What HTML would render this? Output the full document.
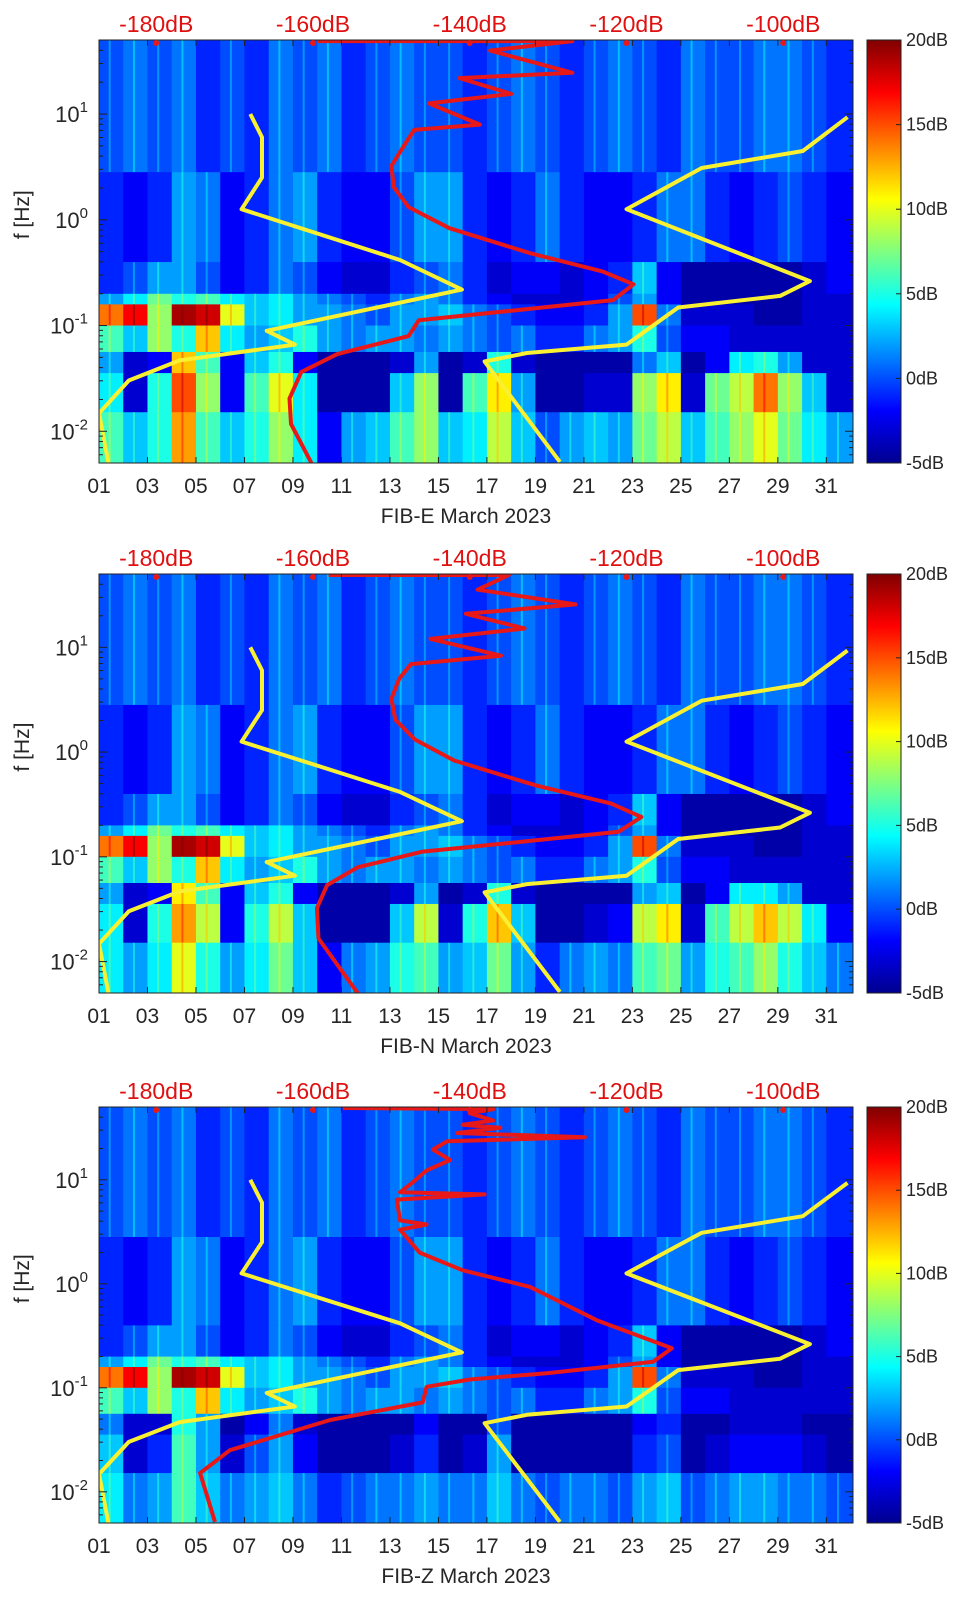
<!DOCTYPE html>
<html><head><meta charset="utf-8"><style>
html,body{margin:0;padding:0;background:#fff;}
svg{display:block;font-family:"Liberation Sans","DejaVu Sans",sans-serif;}
</style></head><body>
<svg id="fig" width="962" height="1599" viewBox="0 0 962 1599" xmlns="http://www.w3.org/2000/svg">
<defs>
<linearGradient id="jet" x1="0" y1="1" x2="0" y2="0">
<stop offset="0" stop-color="#00008f"/><stop offset="0.125" stop-color="#0000ff"/><stop offset="0.375" stop-color="#00ffff"/><stop offset="0.625" stop-color="#ffff00"/><stop offset="0.875" stop-color="#ff0000"/><stop offset="1" stop-color="#800000"/>
</linearGradient>
</defs>
</svg>
<script>
// ---- data ----
const days = Array.from({length:31},(_,i)=>i+1);
const bandEdges = [[1.7,0.45],[0.45,-0.4],[-0.4,-0.7],[-0.7,-0.8],[-0.8,-1.0],[-1.0,-1.25],[-1.25,-1.45],[-1.45,-1.82],[-1.82,-2.3]];
const b0 = [0,1,0,1,-1,0,-1,1,0,1,-1,0,1,0,0,-1,0,1,0,-1,0,1,0,-1,1,0,0,1,1,0,-1];
const b1 = [-1,-2,-1,2,1,-2,-1,1,2,-1,-2,-2,0,2,2,-1,-2,-1,1,-1,-2,-2,-1,1,1,-1,-2,-1,0,-1,-2];
const b2 = [-1,0,2,2,0,-2,-1,1,0,-2,-3,-3,-1,0,1,-1,-3,-2,-2,-3,-2,-1,3,-2,-4,-4,-4,-4,-4,-3,-2];
const b3 = [2,4,7,5,6,4,3,4,2,1,0,-1,1,2,1,-1,-2,-3,-3,-3,-2,0,2,-2,-4,-4,-4,-4,-4,-3,-3];
const b4 = [14,17,8,19,18,10,3,4,2,2,1,0,2,2,3,1,0,-1,-2,-2,-1,2,15,1,-3,-3,-3,-4,-4,-3,-3];
const b5 = [6,3,8,5,12,4,2,3,5,2,1,2,2,1,2,1,0,1,-1,-1,1,2,5,0,-2,-2,-3,-3,-3,-3,-3];
const e6 = [2,-3,-2,12,6,-2,3,5,-2,-4,-4,-4,-3,2,-4,-3,5,-3,-4,-4,-4,-4,1,3,-4,-2,4,5,2,-3,-3];
const e7 = [4,-3,5,15,8,-2,6,10,4,-4,-4,-4,3,8,-4,6,11,2,-4,-4,-3,-3,8,11,-3,7,9,14,8,3,-3];
const e8 = [6,3,5,13,6,3,5,8,4,-2,2,3,6,8,3,4,9,3,0,2,3,2,7,9,3,6,8,10,7,4,2];
const n6 = [2,-3,-2,11,6,-2,3,5,-2,-4,-4,-4,-3,2,-4,-3,5,-3,-4,-4,-4,-4,2,3,-4,-2,4,4,2,-3,-3];
const n7 = [4,-3,5,13,9,-2,5,9,3,-4,-4,-4,3,9,-3,5,12,3,-4,-4,-3,-2,9,11,-3,6,9,12,9,4,-2];
const n8 = [4,2,4,10,5,2,4,7,3,-2,1,2,5,6,2,3,7,2,-1,1,2,1,6,7,2,5,6,8,5,3,1];
const z6 = [1,-3,-3,5,2,-4,-2,1,-3,-4,-4,-4,-4,-2,-4,-4,0,-4,-4,-4,-4,-4,-2,-1,-4,-4,-3,-3,-3,-4,-4];
const z7 = [3,-3,-1,6,2,-3,0,2,-2,-4,-4,-4,-3,-1,-4,-3,2,-4,-4,-4,-4,-4,-1,0,-4,-3,-2,-2,-2,-3,-4];
const z8 = [4,1,2,6,3,1,2,3,1,-1,0,1,1,2,1,1,3,1,0,1,1,0,2,3,0,1,2,2,1,1,0];
// NLNM / NHNM (dB, log10 f)
const nlnmDb = [-168.0,-166.5,-166.5,-169.1,-148.9,-141.0,-165.9,-162.3,-177.0,-183.5,-187.3,-186.1];
const nlnmLf = [1.0,0.78,0.40,0.10,-0.38,-0.66,-1.05,-1.18,-1.33,-1.52,-1.83,-2.3];
const nhnmDb = [-91.8,-97.5,-110.4,-120.0,-96.6,-100.4,-113.4,-120.0,-132.7,-138.1,-128.5];
const nhnmLf = [0.97,0.65,0.49,0.10,-0.58,-0.72,-0.83,-1.18,-1.26,-1.34,-2.29];
// median PSD per channel
const redEDb = [-159.5,-126.9,-137.4,-126.9,-141.3,-134.7,-145.2,-138.7,-147.1,-148.4,-150.0,-149.7,-147.8,-142.6,-132.1,-123.0,-119.1,-121.7,-134.7,-146.5,-147.8,-156.9,-161.5,-163.0,-162.8,-160.2];
const redELf = [1.69,1.69,1.60,1.39,1.34,1.19,1.10,0.90,0.85,0.70,0.51,0.31,0.12,-0.08,-0.32,-0.49,-0.61,-0.76,-0.86,-0.95,-1.1,-1.27,-1.44,-1.69,-1.93,-2.3];
const redNDb = [-158.0,-135.0,-139.0,-126.5,-140.5,-133.0,-145.0,-136.0,-147.5,-149.0,-150.0,-149.5,-147.0,-142.0,-131.5,-122.0,-118.1,-121.0,-134.0,-146.0,-154.3,-158.2,-159.5,-159.3,-156.9,-154.3];
const redNLf = [1.69,1.69,1.55,1.41,1.32,1.18,1.08,0.92,0.84,0.70,0.51,0.31,0.12,-0.08,-0.32,-0.49,-0.62,-0.76,-0.86,-0.95,-1.1,-1.27,-1.49,-1.78,-2.03,-2.3];
const redZDb = [-156.2,-137.0,-140.0,-137.0,-140.9,-136.1,-141.6,-125.3,-142.9,-144.7,-142.5,-145.5,-147.2,-148.9,-138.1,-149.3,-148.9,-145.5,-148.9,-146.4,-140.9,-132.3,-123.8,-114.2,-116.6,-130.2,-140.0,-145.5,-146.0,-157.8,-170.6,-174.4,-172.5];
const redZLf = [1.69,1.68,1.64,1.57,1.53,1.50,1.45,1.41,1.37,1.29,1.19,1.09,0.98,0.88,0.86,0.81,0.61,0.57,0.52,0.30,0.13,-0.03,-0.35,-0.62,-0.75,-0.86,-0.92,-0.99,-1.14,-1.31,-1.6,-1.82,-2.29];
const xTickDays = [1,3,5,7,9,11,13,15,17,19,21,23,25,27,29,31];
const xTickLabels = ["01","03","05","07","09","11","13","15","17","19","21","23","25","27","29","31"];
const dbTicks = [-180,-160,-140,-120,-100];
const cbTicks = [20,15,10,5,0,-5];
const yDecades = [1,0,-1,-2];

const panels = [
 {name:'fib-e', title:'FIB-E March 2023', top:40, bottom:463, low:[e6,e7,e8], rd:redEDb, rl:redELf},
 {name:'fib-n', title:'FIB-N March 2023', top:574, bottom:993, low:[n6,n7,n8], rd:redNDb, rl:redNLf},
 {name:'fib-z', title:'FIB-Z March 2023', top:1107, bottom:1523, low:[z6,z7,z8], rd:redZDb, rl:redZLf}
];
const X0=99, X1=853, D0=1, D1=32.1, DB0=-187.3, DB1=-91.1, LF0=1.7, LF1=-2.3;
const NS='http://www.w3.org/2000/svg';
const svg=document.getElementById('fig');
function mk(tag,attrs,parent){const e=document.createElementNS(NS,tag);for(const k in attrs)e.setAttribute(k,attrs[k]);(parent||svg).appendChild(e);return e;}
function jet(v){let t=(v+5)/25;t=Math.max(0,Math.min(1,t));const c=x=>Math.round(255*Math.max(0,Math.min(1,1.5-Math.abs(4*t-x))));return `rgb(${c(3)},${c(2)},${c(1)})`;}
const xDay=d=>X0+(d-D0)/(D1-D0)*(X1-X0);
const xDb=db=>X0+(db-DB0)/(DB1-DB0)*(X1-X0);

panels.forEach(p=>{
  const yLf=lf=>p.top+(LF0-lf)/(LF0-LF1)*(p.bottom-p.top);
  const g=mk('g',{});
  
  
  const clipId='clip-'+p.name;
  const cp=mk('clipPath',{id:clipId},g);
  mk('rect',{x:X0,y:p.top,width:X1-X0,height:p.bottom-p.top},cp);
  const hm=mk('g',{'clip-path':`url(#${clipId})`},g);
  
  
  const bands=[b0,b1,b2,b3,b4,b5,p.low[0],p.low[1],p.low[2]];
  bands.forEach((arr,bi)=>{
    const [a,b]=bandEdges[bi];
    arr.forEach((v,di)=>{
      const d=days[di];
      const x0=xDay(d), x1=di===arr.length-1?X1:xDay(d+1);
      const r=mk('rect',{x:x0,y:yLf(a),width:x1-x0+0.5,height:yLf(b)-yLf(a)+0.5,fill:jet(v)},hm);
      
      
      if(v>=0){
        const s=mk('rect',{x:x0+(x1-x0)*0.4,y:yLf(a),width:2,height:yLf(b)-yLf(a),fill:jet(v+3),opacity:0.6},hm);
        
        
      }
    });
  });
  const line=(dbs,lfs,color,nm)=>{
    const pts=dbs.map((d,i)=>xDb(d).toFixed(1)+','+yLf(lfs[i]).toFixed(1)).join(' ');
    const pl=mk('polyline',{points:pts,fill:'none',stroke:color,'stroke-width':4,'stroke-linejoin':'round'},hm);
    
    
  };
  line(nlnmDb,nlnmLf,'#f8f030','nlnm-curve');
  line(nhnmDb,nhnmLf,'#f8f030','nhnm-curve');
  line(p.rd,p.rl,'#e81818','median-psd-curve');
  const fr=mk('rect',{x:X0,y:p.top,width:X1-X0,height:p.bottom-p.top,fill:'none',stroke:'#222','stroke-width':1},g);
  
  
  xTickDays.forEach((d,i)=>{
    const x=xDay(d);
    mk('line',{x1:x,x2:x,y1:p.bottom,y2:p.bottom-6,stroke:'#222'},g);
    mk('line',{x1:x,x2:x,y1:p.top,y2:p.top+6,stroke:'#222'},g);
    const t=mk('text',{x:x,y:p.bottom+30,'text-anchor':'middle','font-size':21,fill:'#262626'},g);
    t.textContent=xTickLabels[i];
    
    
  });
  const tt=mk('text',{x:(X0+X1)/2-10,y:p.bottom+60,'text-anchor':'middle','font-size':21,fill:'#262626'},g);
  tt.textContent=p.title;
  
  
  for(let dec=-3;dec<=1;dec++){
    for(let m=1;m<10;m++){
      const lf=dec+Math.log10(m);
      if(lf>LF0||lf<LF1)continue;
      const y=yLf(lf), L=m===1?8:4;
      mk('line',{x1:X0,x2:X0+L,y1:y,y2:y,stroke:'#222'},g);
      mk('line',{x1:X1,x2:X1-L,y1:y,y2:y,stroke:'#222'},g);
    }
  }
  yDecades.forEach(dec=>{
    const t=mk('text',{x:88,y:yLf(dec)+8,'text-anchor':'end','font-size':22,fill:'#262626'},g);
    t.innerHTML='10<tspan dy="-10" font-size="15">'+dec+'</tspan>';
    
    
  });
  const yl=mk('text',{x:0,y:0,'text-anchor':'middle','font-size':21,fill:'#262626',transform:`translate(29,${yLf(0)-5}) rotate(-90)`},g);
  yl.textContent='f [Hz]';
  
  
  dbTicks.forEach(db=>{
    const x=xDb(db);
    const t=mk('text',{x:x,y:p.top-8,'text-anchor':'middle','font-size':23,fill:'#e01010'},g);
    t.textContent=db+'dB';
    
    
    const c=mk('circle',{cx:x,cy:p.top+3,r:3,fill:'#e81818'},g);
    
    
  });
  const cb=mk('rect',{x:867,y:p.top,width:34,height:p.bottom-p.top,fill:'url(#jet)',stroke:'#222','stroke-width':1},g);
  
  
  cbTicks.forEach(v=>{
    const y=p.bottom-(v+5)/25*(p.bottom-p.top);
    mk('line',{x1:901,x2:896,y1:y,y2:y,stroke:'#222'},g);
    const t=mk('text',{x:906,y:y+6,'font-size':18,fill:'#262626'},g);
    t.textContent=v+'dB';
    
    
  });
});
</script>
</body></html>
